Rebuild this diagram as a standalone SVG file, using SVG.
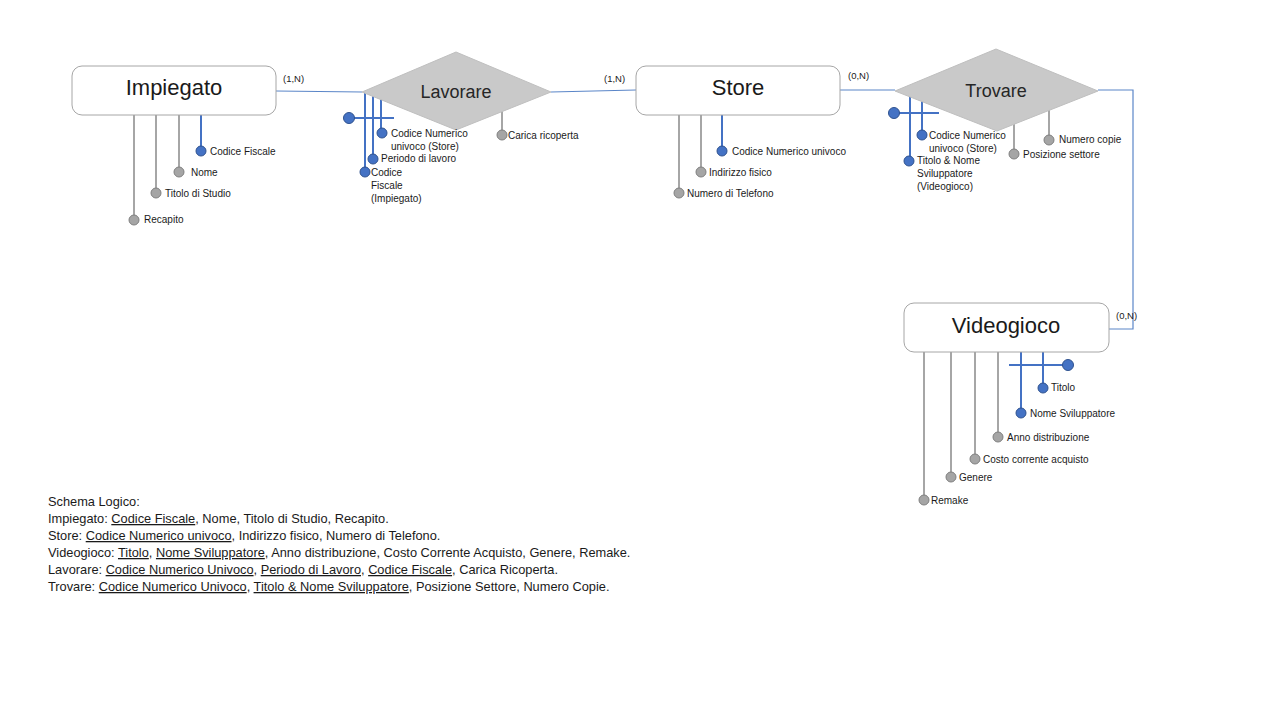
<svg xmlns="http://www.w3.org/2000/svg" width="1280" height="720" viewBox="0 0 1280 720">
<style>
.ent{fill:#fff;stroke:#a6a6a6;stroke-width:1}
.rel{fill:#c9c9c9;stroke:#bfbfbf;stroke-width:1}
.t1{font-family:"Liberation Sans",Arial,sans-serif;font-size:22px;fill:#1a1a1a;text-anchor:middle}
.t2{font-family:"Liberation Sans",Arial,sans-serif;font-size:18px;fill:#262626;text-anchor:middle}
.lab{font-family:"Liberation Sans",Arial,sans-serif;font-size:10px;fill:#1a1a1a}
.card{font-family:"Liberation Sans",Arial,sans-serif;font-size:9.5px;fill:#1a1a1a}
.sch{font-family:"Liberation Sans",Arial,sans-serif;font-size:12.8px;fill:#1a1a1a}
.u{text-decoration:underline}
.conn{fill:none;stroke:#5b86c8;stroke-width:1.2}
.gl{stroke:#a6a6a6;stroke-width:2}
.bl{stroke:#4472c4;stroke-width:2}
.gc{fill:#a5a5a5;stroke:#7f7f7f;stroke-width:1}
.bc{fill:#4472c4;stroke:#2f528f;stroke-width:1}
</style>
<rect width="1280" height="720" fill="#fff"/>
<g id="connectors">
<polyline class="conn" points="276,91 362,92"/>
<polyline class="conn" points="551,92 636,90"/>
<polyline class="conn" points="840,90 895,90"/>
<polyline class="conn" points="1098,90 1133,90 1133,329 1109,329"/>
<text class="card" x="283" y="82">(1,N)</text>
<text class="card" x="604" y="82">(1,N)</text>
<text class="card" x="848" y="79">(0,N)</text>
<text class="card" x="1116" y="319">(0,N)</text>
</g>
<g id="impiegato">
<line class="gl" x1="134" y1="115" x2="134" y2="220"/>
<line class="gl" x1="156" y1="115" x2="156" y2="193"/>
<line class="gl" x1="179" y1="115" x2="179" y2="172"/>
<line class="bl" x1="201" y1="115" x2="201" y2="151"/>
<rect class="ent" x="72" y="66" width="204" height="49" rx="10"/>
<text class="t1" x="174" y="95">Impiegato</text>
<circle class="bc" cx="201" cy="151" r="5"/><text class="lab" x="210" y="155">Codice Fiscale</text>
<circle class="gc" cx="179" cy="172" r="5"/><text class="lab" x="191" y="176">Nome</text>
<circle class="gc" cx="156" cy="193" r="5"/><text class="lab" x="165" y="197">Titolo di Studio</text>
<circle class="gc" cx="134" cy="220" r="5"/><text class="lab" x="144" y="223">Recapito</text>
</g>
<g id="lavorare">
<line class="bl" x1="365" y1="92" x2="365" y2="172"/>
<line class="bl" x1="373" y1="93" x2="373" y2="159"/>
<line class="bl" x1="381" y1="95" x2="381" y2="133"/>
<line class="bl" x1="349" y1="118" x2="394" y2="118"/>
<line class="gl" x1="502" y1="110" x2="502" y2="135"/>
<polygon class="rel" points="362,92 456,52 551,92 456,130"/>
<text class="t2" x="456" y="98">Lavorare</text>
<circle class="bc" cx="349" cy="118" r="5.5"/>
<circle class="bc" cx="382" cy="133" r="5"/><text class="lab" x="391" y="137">Codice Numerico</text><text class="lab" x="391" y="150">univoco (Store)</text>
<circle class="bc" cx="373" cy="159" r="5"/><text class="lab" x="381" y="162">Periodo di lavoro</text>
<circle class="bc" cx="365" cy="172" r="5"/><text class="lab" x="371" y="176">Codice</text><text class="lab" x="371" y="189">Fiscale</text><text class="lab" x="371" y="202">(Impiegato)</text>
<circle class="gc" cx="502" cy="135" r="5"/><text class="lab" x="508" y="139">Carica ricoperta</text>
</g>
<g id="store">
<line class="gl" x1="679" y1="115" x2="679" y2="193"/>
<line class="gl" x1="701" y1="115" x2="701" y2="172"/>
<line class="bl" x1="722" y1="115" x2="722" y2="151"/>
<rect class="ent" x="636" y="66" width="204" height="49" rx="10"/>
<text class="t1" x="738" y="95">Store</text>
<circle class="bc" cx="722" cy="151" r="5"/><text class="lab" x="732" y="155">Codice Numerico univoco</text>
<circle class="gc" cx="701" cy="172" r="5"/><text class="lab" x="709" y="176">Indirizzo fisico</text>
<circle class="gc" cx="679" cy="193" r="5"/><text class="lab" x="687" y="197">Numero di Telefono</text>
</g>
<g id="trovare">
<line class="bl" x1="910" y1="95" x2="910" y2="161"/>
<line class="bl" x1="922" y1="100" x2="922" y2="135"/>
<line class="bl" x1="894" y1="113" x2="939" y2="113"/>
<line class="gl" x1="1014" y1="122" x2="1014" y2="154"/>
<line class="gl" x1="1049" y1="108" x2="1049" y2="140"/>
<polygon class="rel" points="895,91 996,49 1098,91 997,131"/>
<text class="t2" x="996" y="97">Trovare</text>
<circle class="bc" cx="894" cy="113" r="5.5"/>
<circle class="bc" cx="922" cy="135" r="5"/><text class="lab" x="929" y="139">Codice Numerico</text><text class="lab" x="929" y="152">univoco (Store)</text>
<circle class="bc" cx="909" cy="161" r="5"/><text class="lab" x="917" y="164">Titolo &amp; Nome</text><text class="lab" x="917" y="177">Sviluppatore</text><text class="lab" x="917" y="190">(Videogioco)</text>
<circle class="gc" cx="1014" cy="154" r="5"/><text class="lab" x="1023" y="158">Posizione settore</text>
<circle class="gc" cx="1049" cy="140" r="5"/><text class="lab" x="1059" y="143">Numero copie</text>
</g>
<g id="videogioco">
<line class="gl" x1="924" y1="352" x2="924" y2="500"/>
<line class="gl" x1="951" y1="352" x2="951" y2="477"/>
<line class="gl" x1="975" y1="352" x2="975" y2="459"/>
<line class="gl" x1="998" y1="352" x2="998" y2="437"/>
<line class="bl" x1="1021" y1="352" x2="1021" y2="413"/>
<line class="bl" x1="1043" y1="352" x2="1043" y2="387"/>
<line class="bl" x1="1009" y1="365" x2="1068" y2="365"/>
<rect class="ent" x="904" y="303" width="205" height="49" rx="10"/>
<text class="t1" x="1006" y="333">Videogioco</text>
<circle class="bc" cx="1068" cy="365" r="5.5"/>
<circle class="bc" cx="1043" cy="388" r="5"/><text class="lab" x="1051" y="391">Titolo</text>
<circle class="bc" cx="1021" cy="413" r="5"/><text class="lab" x="1030" y="417">Nome Sviluppatore</text>
<circle class="gc" cx="998" cy="437" r="5"/><text class="lab" x="1007" y="441">Anno distribuzione</text>
<circle class="gc" cx="975" cy="459" r="5"/><text class="lab" x="983" y="463">Costo corrente acquisto</text>
<circle class="gc" cx="951" cy="477" r="5"/><text class="lab" x="959" y="481">Genere</text>
<circle class="gc" cx="924" cy="500" r="5"/><text class="lab" x="931" y="504">Remake</text>
</g>
<g id="schema">
<text class="sch" x="48" y="506">Schema Logico:</text>
<text class="sch" x="48" y="523">Impiegato: <tspan class="u">Codice Fiscale</tspan>, Nome, Titolo di Studio, Recapito.</text>
<text class="sch" x="48" y="540">Store: <tspan class="u">Codice Numerico univoco</tspan>, Indirizzo fisico, Numero di Telefono.</text>
<text class="sch" x="48" y="557">Videogioco: <tspan class="u">Titolo</tspan>, <tspan class="u">Nome Sviluppatore</tspan>, Anno distribuzione, Costo Corrente Acquisto, Genere, Remake.</text>
<text class="sch" x="48" y="574">Lavorare: <tspan class="u">Codice Numerico Univoco</tspan>, <tspan class="u">Periodo di Lavoro</tspan>, <tspan class="u">Codice Fiscale</tspan>, Carica Ricoperta.</text>
<text class="sch" x="48" y="591">Trovare: <tspan class="u">Codice Numerico Univoco</tspan>, <tspan class="u">Titolo &amp; Nome Sviluppatore</tspan>, Posizione Settore, Numero Copie.</text>
</g>
</svg>
